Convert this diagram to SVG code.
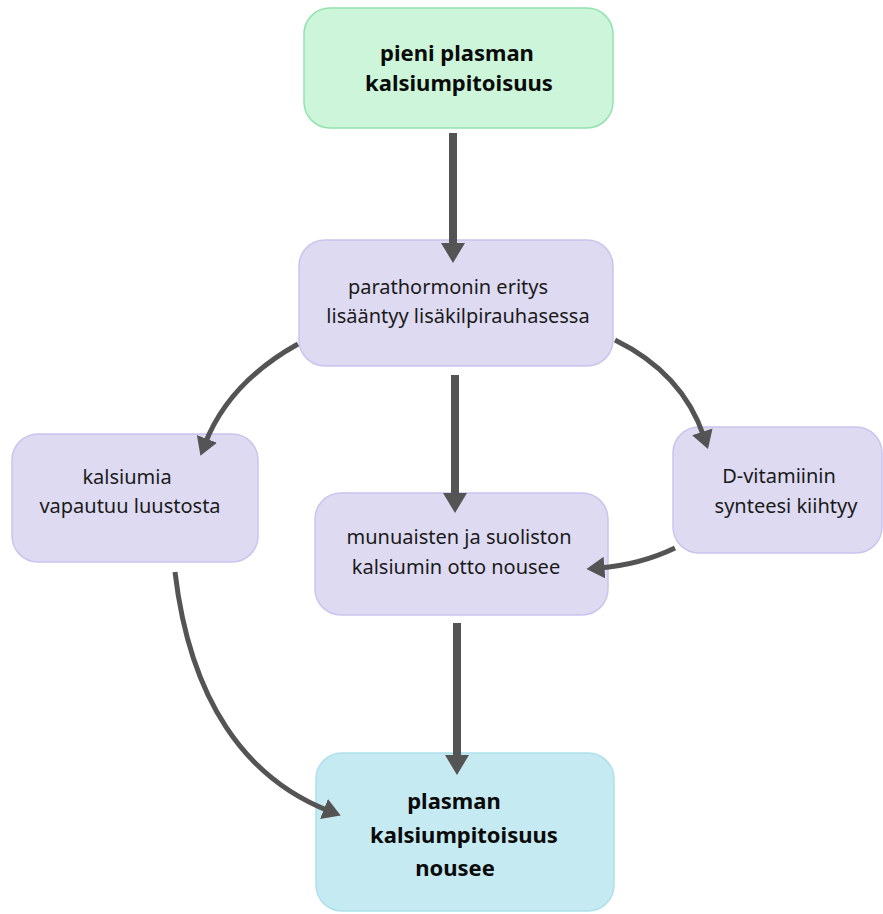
<svg xmlns="http://www.w3.org/2000/svg" width="883" height="914" viewBox="0 0 883 914">
<style>
.bg{fill:#ffffff}
.green{fill:#ccf5d9;stroke:#93e3ad;stroke-width:1.5}
.lav{fill:#dedaf2;stroke:#cbc4ee;stroke-width:1.5}
.blue{fill:#c6eaf2;stroke:#ade0ec;stroke-width:1.5}
.t{font-family:"Noto Sans","Open Sans","DejaVu Sans",sans-serif;font-size:20px;fill:#1a1a1a;text-anchor:middle}
.tb{font-family:"Noto Sans","Open Sans","DejaVu Sans",sans-serif;font-size:22px;font-weight:bold;fill:#0a0a0a;text-anchor:middle}
.c{fill:none;stroke:#545454;stroke-linecap:butt}
.s{stroke-width:8}
.k{stroke-width:5}
</style>
<defs>
<marker id="ah" viewBox="0 0 20 24" markerWidth="20" markerHeight="24" refX="6" refY="12" orient="auto" markerUnits="userSpaceOnUse">
<path d="M0,0 L20,12 L0,24 Z" fill="#545454"/>
</marker>
<marker id="ah2" viewBox="0 0 20 24" markerWidth="18" markerHeight="22" refX="6" refY="12" orient="auto" markerUnits="userSpaceOnUse">
<path d="M0,0 L20,12 L0,24 Z" fill="#545454"/>
</marker>
</defs>
<rect class="bg" x="0" y="0" width="883" height="914"/>
<g id="node-pieni">
<rect class="green" x="304" y="8" width="309" height="120" rx="26"/>
<text class="tb" x="457" y="61">pieni plasman</text>
<text class="tb" x="459" y="91">kalsiumpitoisuus</text>
</g>
<g id="node-parathormoni">
<rect class="lav" x="299" y="240" width="314" height="126" rx="26"/>
<text class="t" x="448" y="294">parathormonin eritys</text>
<text class="t" x="458" y="323">lisääntyy lisäkilpirauhasessa</text>
</g>
<g id="node-luusto">
<rect class="lav" x="12" y="434" width="246" height="128" rx="26"/>
<text class="t" x="127" y="484">kalsiumia</text>
<text class="t" x="130" y="513">vapautuu luustosta</text>
</g>
<g id="node-dvitamiini">
<rect class="lav" x="673" y="427" width="209" height="126" rx="26"/>
<text class="t" x="779" y="483">D-vitamiinin</text>
<text class="t" x="786" y="513">synteesi kiihtyy</text>
</g>
<g id="node-munuaiset">
<rect class="lav" x="315" y="493" width="293" height="122" rx="26"/>
<text class="t" x="459" y="544">munuaisten ja suoliston</text>
<text class="t" x="456" y="574">kalsiumin otto nousee</text>
</g>
<g id="node-nousee">
<rect class="blue" x="316" y="753" width="298" height="158" rx="26"/>
<text class="tb" x="454" y="809">plasman</text>
<text class="tb" x="464" y="843">kalsiumpitoisuus</text>
<text class="tb" x="455" y="876">nousee</text>
</g>
<g id="connectors">
<path class="c s" d="M453,133 L453,249" marker-end="url(#ah)"/>
<path class="c s" d="M455,375 L455,499" marker-end="url(#ah)"/>
<path class="c s" d="M457,623 L457,761" marker-end="url(#ah)"/>
<path class="c k" d="M298,344 C255,368 222,400 205,444" marker-end="url(#ah2)"/>
<path class="c k" d="M615,340 C660,362 690,395 704,437" marker-end="url(#ah2)"/>
<path class="c k" d="M675,548 C650,560 625,566 599,568" marker-end="url(#ah2)"/>
<path class="c k" d="M175,572 C190,700 245,778 329,811" marker-end="url(#ah2)"/>
</g>
</svg>
